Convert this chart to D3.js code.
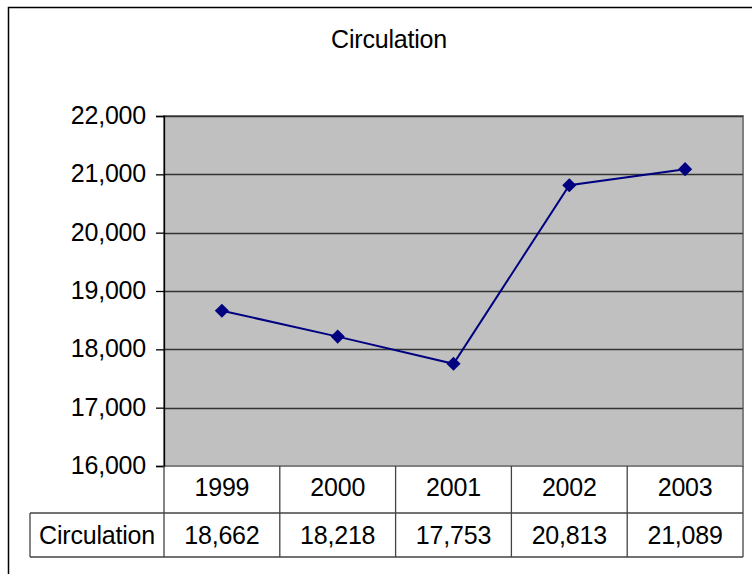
<!DOCTYPE html>
<html>
<head>
<meta charset="utf-8">
<script src="https://cdn.jsdelivr.net/npm/d3@7"></script>
<style>
  body { margin: 0; background: #fff; }
  text { font-family: "Liberation Sans", Arial, sans-serif; fill: #000; }
</style>
</head>
<body>
<div id="chart"></div>
<script>
var years = ["1999", "2000", "2001", "2002", "2003"];
var circulation = [18662, 18218, 17753, 20813, 21089];
var yTicks = [16000, 17000, 18000, 19000, 20000, 21000, 22000];
var seriesName = "Circulation";

var width = 752, height = 574;
var plot = { left: 164, right: 743, top: 116, bottom: 466 };
var rowH = [47, 44];
var fontSize = 25;

var svg = d3.select("#chart").append("svg")
    .attr("width", width)
    .attr("height", height);

// outer chart frame
svg.append("path")
    .attr("d", "M8.5," + height + "V7.5H" + width)
    .attr("fill", "none")
    .attr("stroke", "#000")
    .attr("stroke-width", 1.5);

svg.append("text")
    .attr("x", 389)
    .attr("y", 48)
    .attr("text-anchor", "middle")
    .attr("font-size", fontSize)
    .attr("letter-spacing", -0.2)
    .text(seriesName);

var x = d3.scaleBand()
    .domain(years)
    .range([plot.left, plot.right]);

var y = d3.scaleLinear()
    .domain([16000, 22000])
    .range([plot.bottom, plot.top]);

// plot background
svg.append("rect")
    .attr("x", plot.left)
    .attr("y", plot.top)
    .attr("width", plot.right - plot.left)
    .attr("height", plot.bottom - plot.top)
    .attr("fill", "#c0c0c0")
    .attr("stroke", "#808080")
    .attr("stroke-width", 2);

// gridlines
svg.append("g")
    .selectAll("line")
    .data(yTicks.slice(1))
    .join("line")
    .attr("x1", plot.left)
    .attr("x2", plot.right)
    .attr("y1", function(d) { return Math.round(y(d)) + 0.5; })
    .attr("y2", function(d) { return Math.round(y(d)) + 0.5; })
    .attr("stroke", "#333")
    .attr("stroke-width", 1.3);

// y axis
var yAxis = svg.append("g")
    .attr("transform", "translate(" + plot.left + ",0)")
    .call(d3.axisLeft(y)
      .tickValues(yTicks)
      .tickFormat(d3.format(","))
      .tickSize(8)
      .tickPadding(10));
yAxis.select(".domain").attr("stroke", "#000").attr("stroke-width", 1.3);
yAxis.selectAll(".tick line").attr("stroke", "#000").attr("stroke-width", 1.3);
yAxis.selectAll("text")
    .attr("font-size", fontSize)
    .attr("letter-spacing", -0.2)
    .attr("dy", "0.3em")
    .attr("font-family", "Liberation Sans, Arial, sans-serif");

// data line
var pts = years.map(function(yr, i) {
  return [x(yr) + x.bandwidth() / 2, y(circulation[i])];
});

svg.append("path")
    .datum(pts)
    .attr("d", d3.line())
    .attr("fill", "none")
    .attr("stroke", "#000080")
    .attr("stroke-width", 2);

svg.append("g")
    .selectAll("path")
    .data(pts)
    .join("path")
    .attr("transform", function(d) { return "translate(" + d[0] + "," + d[1] + ") rotate(45)"; })
    .attr("d", d3.symbol(d3.symbolSquare, 100))
    .attr("fill", "#000080");

// data table
var table = svg.append("g").attr("class", "table");
var t0 = plot.bottom, t1 = t0 + rowH[0], t2 = t1 + rowH[1];
var labelLeft = 30;

table.append("path")
    .attr("d",
      "M" + plot.left + "," + t0 + "V" + t2 +
      "M" + labelLeft + "," + t1 + "H" + plot.right +
      "M" + labelLeft + "," + t1 + "V" + t2 +
      "M" + labelLeft + "," + t2 + "H" + plot.right +
      years.map(function(yr) { return "M" + (x(yr) + x.bandwidth()) + "," + t0 + "V" + t2; }).join(""))
    .attr("fill", "none")
    .attr("stroke", "#444")
    .attr("stroke-width", 1.3);

table.selectAll("text.year")
    .data(years)
    .join("text")
    .attr("class", "year")
    .attr("x", function(d) { return x(d) + x.bandwidth() / 2; })
    .attr("y", 496)
    .attr("text-anchor", "middle")
    .attr("font-size", fontSize)
    .attr("letter-spacing", -0.2)
    .text(function(d) { return d; });

table.selectAll("text.val")
    .data(circulation)
    .join("text")
    .attr("class", "val")
    .attr("x", function(d, i) { return x(years[i]) + x.bandwidth() / 2; })
    .attr("y", 544)
    .attr("text-anchor", "middle")
    .attr("font-size", fontSize)
    .attr("letter-spacing", -0.2)
    .text(d3.format(","));

table.append("text")
    .attr("x", (labelLeft + plot.left) / 2)
    .attr("y", 544)
    .attr("text-anchor", "middle")
    .attr("font-size", fontSize)
    .attr("letter-spacing", -0.2)
    .text(seriesName);
</script>
</body>
</html>
